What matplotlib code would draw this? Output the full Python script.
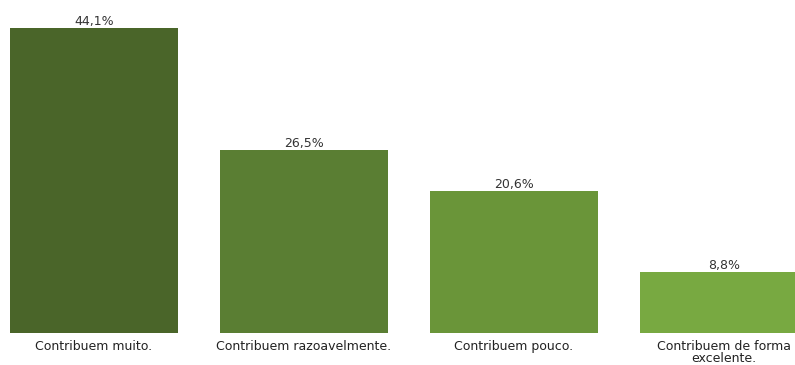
import matplotlib
matplotlib.use("Agg")
import matplotlib.pyplot as plt

categories = ["Contribuem muito.", "Contribuem razoavelmente.",
              "Contribuem pouco.", "Contribuem de forma\nexcelente."]
values = [44.1, 26.5, 20.6, 8.8]
labels = ["44,1%", "26,5%", "20,6%", "8,8%"]
colors = ["#4a6529", "#5a7e33", "#6a9539", "#78a941"]

fig = plt.figure(figsize=(7.95, 3.65), dpi=100)
# axes placed in pixel terms; right edge runs past the figure, clipping last bar
ax = fig.add_axes([10 / 795, 32 / 365, 798 / 795, 305 / 365])

x = range(len(values))
ax.bar(x, values, width=0.8, color=colors)
for xi, v, lab in zip(x, values, labels):
    ax.text(xi, v, lab, ha="center", va="bottom", fontsize=9, color="#333333")

ax.set_xlim(-0.4, 3.4)
ax.set_ylim(0, 44.1)
ax.set_xticks(list(x))
ax.set_xticklabels(categories, fontsize=9, color="#222222", linespacing=0.9)
ax.tick_params(axis="x", length=0, pad=5)
ax.set_yticks([])
for s in ax.spines.values():
    s.set_visible(False)

fig.savefig("out.png", dpi=100)
